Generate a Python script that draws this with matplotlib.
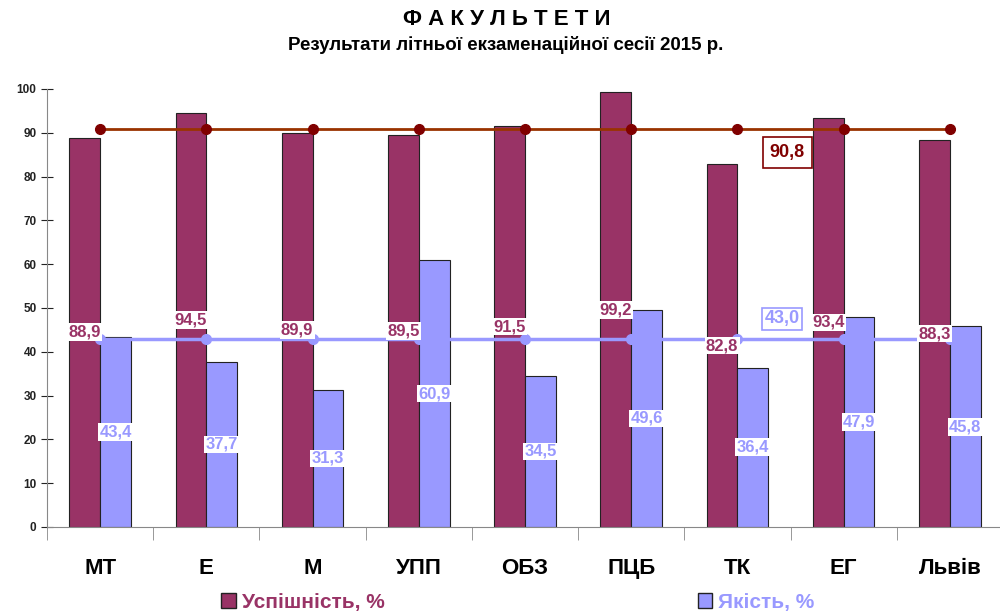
import matplotlib
matplotlib.use('Agg')
import matplotlib.pyplot as plt
from matplotlib.patches import Patch
import numpy as np

plt.rcParams['font.family'] = ['Liberation Sans', 'DejaVu Sans']

faculties = ['МТ', 'Е', 'М', 'УПП', 'ОБЗ', 'ПЦБ', 'ТК', 'ЕГ', 'Львів']
uspishnist = [88.9, 94.5, 89.9, 89.5, 91.5, 99.2, 82.8, 93.4, 88.3]
yakist = [43.4, 37.7, 31.3, 60.9, 34.5, 49.6, 36.4, 47.9, 45.8]
avg_usp = 90.8
avg_yak = 43.0

MAR = '#993366'; BLUE = '#9999ff'; LINE_R = '#993300'; DOT_R = '#800000'

fig = plt.figure(figsize=(10, 6.14), dpi=100)
ax = fig.add_axes([0.047, 0.1417, 0.956, 0.7134])

x = np.arange(len(faculties))
w = 0.29
ax.bar(x - w/2, uspishnist, w, color=MAR, edgecolor='#222', lw=0.8, zorder=2)
ax.bar(x + w/2, yakist, w, color=BLUE, edgecolor='#222', lw=0.8, zorder=2)

ax.plot(x, [avg_usp]*len(x), color=LINE_R, lw=2, marker='o', ms=7,
        mfc=DOT_R, mec=DOT_R, zorder=4)
ax.plot(x, [avg_yak]*len(x), color=BLUE, lw=2.5, marker='o', ms=7,
        mfc=BLUE, mec=BLUE, zorder=3)

lab = dict(ha='center', va='center', fontsize=12, fontweight='bold', zorder=6)
for xi, v in zip(x, uspishnist):
    ax.text(xi - w/2, v/2, f'{v:.1f}'.replace('.', ','), color=MAR,
            bbox=dict(fc='white', ec='none', pad=1), **lab)
for xi, v in zip(x, yakist):
    ax.text(xi + w/2, v/2, f'{v:.1f}'.replace('.', ','), color=BLUE,
            bbox=dict(fc='white', ec='none', pad=1), **lab)

ax.text(6.47, 85.5, f'{avg_usp:.1f}'.replace('.', ','), color=DOT_R, fontsize=13,
        fontweight='bold', ha='center', va='center', zorder=6,
        bbox=dict(fc='white', ec=DOT_R, lw=1.2, pad=5))
ax.text(6.42, 47.5, f'{avg_yak:.1f}'.replace('.', ','), color=BLUE, fontsize=13,
        fontweight='bold', ha='center', va='center', zorder=6,
        bbox=dict(fc='white', ec=BLUE, lw=1.2, pad=2))

ax.set_xlim(-0.5, len(x) - 0.5)
ax.set_ylim(0, 100)
ax.set_yticks(range(0, 101, 10))
ax.tick_params(axis='y', direction='inout', length=8, labelsize=8.5, colors='#222')
for t in ax.get_yticklabels():
    t.set_fontweight('bold')
ax.set_xticks(x)
ax.set_xticklabels(faculties, fontsize=16, fontweight='bold')
ax.tick_params(axis='x', which='major', length=0, pad=22)
ax.set_xticks(np.arange(-0.5, len(x) - 0.4, 1), minor=True)
ax.tick_params(axis='x', which='minor', length=9, color='#888')
for s in ['top', 'right']:
    ax.spines[s].set_visible(False)
ax.spines['left'].set_color('#888')
ax.spines['bottom'].set_color('#888')

fig.text(0.507, 0.969, 'Ф А К У Л Ь Т Е Т И', ha='center', va='center',
         fontsize=16, fontweight='bold')
fig.text(0.506, 0.926, 'Результати літньої екзаменаційної сесії 2015 р.',
         ha='center', va='center', fontsize=13.5, fontweight='bold')

handles = [Patch(fc=MAR, ec='#222'), Patch(fc=BLUE, ec='#222')]
fig.legend(handles, ['Успішність, %', 'Якість, %'], loc='center',
           bbox_to_anchor=(0.518, 0.019), ncol=2, frameon=False,
           prop=dict(size=15, weight='bold'), labelcolor=[MAR, BLUE],
           columnspacing=15, handlelength=0.7, handleheight=0.7, handletextpad=0.3)

fig.savefig('out.png', dpi=100, facecolor='white')
